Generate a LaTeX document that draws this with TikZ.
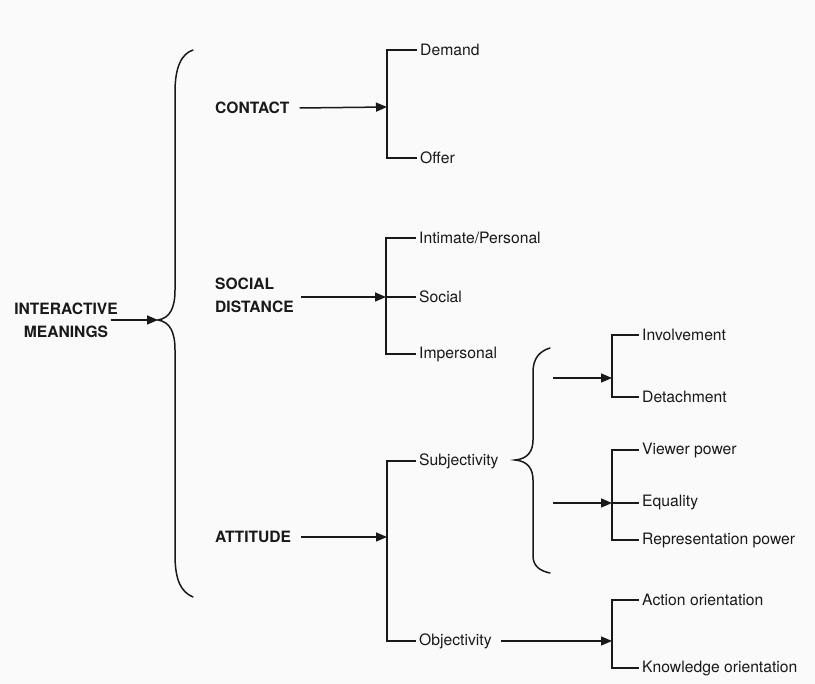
\documentclass[tikz,border=0pt]{standalone}
\usepackage{fontspec}
\setmainfont{TeX Gyre Heros}
\usetikzlibrary{arrows.meta}
\definecolor{ink}{RGB}{25,25,25}
\definecolor{paper}{RGB}{250,250,250}
\begin{document}
\begin{tikzpicture}[x=1pt,y=-1pt,
  every node/.style={text=ink},
  lbl/.style={font=\fontsize{15.7}{18}\selectfont, inner xsep=3pt, inner ysep=0pt, anchor=west},
  cat/.style={font=\fontsize{15.6}{23}\bfseries\selectfont, inner sep=0pt, anchor=west, align=left},
  ln/.style={draw=ink, line width=1.5pt},
  arr/.style={ln, -{Triangle[length=11pt,width=9pt]}},
  brace/.style={ln, line cap=round}]
\fill[paper] (0,0) rectangle (815,684);
\useasboundingbox (0,0) rectangle (815,684);

% ---- root and big brace
\node[cat, anchor=center, align=center] (im) at (66,320) {INTERACTIVE\\MEANINGS};
\coordinate (bt) at (158,320);
\draw[brace] (193,50) .. controls (181,54) and (175,68) .. (175,92) -- (175,290)
  .. controls (175,308) and (170,318) .. (bt)
  .. controls (170,322) and (175,332) .. (175,350) -- (175,555)
  .. controls (175,580) and (181,592) .. (193,597);
\draw[arr] ([xshift=-7pt]im.east) -- (bt);

% ---- CONTACT
\node[cat] (con) at (215,108) {CONTACT};
\coordinate (cb) at (387,107);
\node[lbl] (dem) at (417,50) {Demand};
\node[lbl] (off) at (417,158) {Offer};
\draw[arr] ([xshift=10pt]con.east) -- (cb);
\draw[ln] (dem.west) -| (cb) |- (off.west);

% ---- SOCIAL DISTANCE
\node[cat] (sd) at (215,295) {SOCIAL\\DISTANCE};
\coordinate (sb) at (386,297);
\node[lbl] (ip) at (416,238) {Intimate/Personal};
\node[lbl] (soc) at (416,297) {Social};
\node[lbl] (imp) at (416,354) {Impersonal};
\draw[arr] ([xshift=7pt]sd.east |- sb) -- (sb);
\draw[ln] (ip.west) -| (sb) |- (imp.west);
\draw[ln] (sb) -- (soc.west);

% ---- ATTITUDE
\node[cat] (att) at (215,537) {ATTITUDE};
\coordinate (ab) at (387,537);
\node[lbl] (subj) at (416,461) {Subjectivity};
\node[lbl] (obj) at (416,641) {Objectivity};
\draw[arr] ([xshift=10pt]att.east) -- (ab);
\draw[ln] (subj.west) -| (ab) |- (obj.west);

% ---- Subjectivity brace
\coordinate (st) at (515,460);
\draw[brace] (550,348) .. controls (540,351) and (533,358) .. (533,372) -- (533,440)
  .. controls (533,452) and (527,459) .. (st)
  .. controls (527,461) and (533,468) .. (533,480) -- (533,556)
  .. controls (533,566) and (540,571) .. (550,573);

% ---- Involvement / Detachment
\coordinate (g1) at (553,378);
\coordinate (b1) at (612,378);
\node[lbl] (inv) at (639,335) {Involvement};
\node[lbl] (det) at (639,397) {Detachment};
\draw[arr] (g1) -- (b1);
\draw[ln] (inv.west) -| (b1) |- (det.west);

% ---- Viewer power / Equality / Representation power
\coordinate (g2) at (553,503);
\coordinate (b2) at (612,503);
\node[lbl] (vp) at (639,450) {Viewer power};
\node[lbl] (eq) at (639,502) {Equality};
\node[lbl] (rp) at (639,540) {Representation power};
\draw[arr] (g2) -- (b2);
\draw[ln] (vp.west) -| (b2) |- (rp.west);
\draw[ln] (b2) -- (eq.west |- b2);

% ---- Action / Knowledge orientation
\coordinate (b3) at (612,641);
\node[lbl] (ao) at (639,600) {Action orientation};
\node[lbl] (ko) at (639,668) {Knowledge orientation};
\draw[arr] ([xshift=6pt]obj.east) -- (b3);
\draw[ln] (ao.west) -| (b3) |- (ko.west);
\end{tikzpicture}
\end{document}
